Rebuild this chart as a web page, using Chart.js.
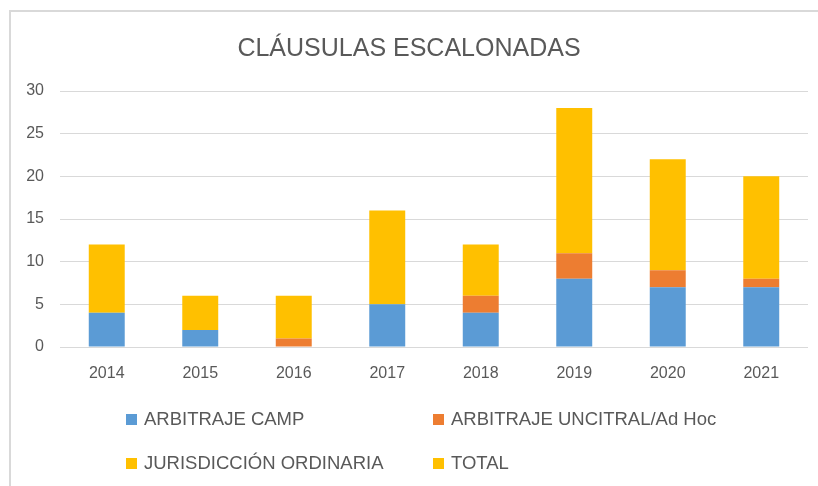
<!DOCTYPE html>
<html>
<head>
<meta charset="utf-8">
<script src="https://cdn.jsdelivr.net/npm/chart.js@4/dist/chart.umd.min.js"></script>
<style>
  html, body { margin: 0; padding: 0; background: #fff; overflow: hidden; }
  #wrap { position: relative; width: 818px; height: 486px; overflow: hidden; font-family: "Liberation Sans", Arial, sans-serif; }
  #frame { position: absolute; left: 9px; top: 10px; width: 900px; height: 560px; border: 2px solid #d9d9d9; border-right: none; border-bottom: none; box-sizing: border-box; }
  #title { position: absolute; left: 0; width: 818px; top: 31px; text-align: center; font-size: 25px; color: #595959; line-height: 32px; }
  #chartBox { position: absolute; left: 0; top: 0; width: 818px; height: 486px; }
  .leg { position: absolute; font-size: 18.5px; color: #595959; line-height: 22px; white-space: nowrap; }
  .sw { position: absolute; width: 11px; height: 11px; }
</style>
</head>
<body>
<div id="wrap">
  <div id="frame"></div>
  <div id="chartBox"><canvas id="c" width="818" height="486"></canvas></div>
  <div id="title"></div>
  <div id="legend"></div>
</div>
<script>
const chartTitle = "CLÁUSULAS ESCALONADAS";
const categories = ["2014", "2015", "2016", "2017", "2018", "2019", "2020", "2021"];
const seriesNames = ["ARBITRAJE CAMP", "ARBITRAJE UNCITRAL/Ad Hoc", "JURISDICCIÓN ORDINARIA", "TOTAL"];
const arbitrajeCamp = [4, 2, 0, 5, 4, 8, 7, 7];
const arbitrajeUncitral = [0, 0, 1, 0, 2, 3, 2, 1];
const jurisdiccionOrdinaria = [8, 4, 5, 11, 6, 17, 13, 12];
const total = [12, 6, 6, 16, 12, 28, 22, 20];
const yTicks = [0, 5, 10, 15, 20, 25, 30];
const colors = ["#5B9BD5", "#ED7D31", "#FFC000", "#FFC000"];

document.getElementById("title").textContent = chartTitle;

const seriesData = [arbitrajeCamp, arbitrajeUncitral, jurisdiccionOrdinaria, total];
const datasets = seriesData.map((d, i) => ({
  label: seriesNames[i],
  data: d,
  backgroundColor: colors[i],
  borderWidth: 0,
  stack: i === 3 ? "total" : "main",
  hidden: i === 3,
  categoryPercentage: 1,
  barPercentage: 1 / 2.6
}));

const chart = new Chart(document.getElementById("c"), {
  type: "bar",
  data: { labels: categories, datasets: datasets },
  options: {
    responsive: false,
    animation: false,
    layout: { padding: { left: 0, right: 10, top: 91, bottom: 99 } },
    plugins: { legend: { display: false }, title: { display: false }, tooltip: { enabled: false } },
    scales: {
      x: {
        stacked: true,
        grid: { display: false, drawTicks: false },
        border: { display: false },
        ticks: { color: "#595959", font: { family: "Liberation Sans", size: 16 }, padding: 17 },
        afterFit: s => { s.height = 40; }
      },
      y: {
        stacked: true,
        min: 0, max: 30,
        afterBuildTicks: s => { s.ticks = yTicks.map(v => ({ value: v })); },
        grid: { color: "#d9d9d9", lineWidth: 1, drawTicks: false },
        border: { display: false },
        ticks: { color: "#595959", font: { family: "Liberation Sans", size: 16 }, padding: 16 },
        afterFit: s => { s.width = 60; }
      }
    }
  }
});

// HTML legend built from the chart's datasets, in two columns like the original
const legend = document.getElementById("legend");
const colX = [126, 433];
const rowY = [419, 463];
chart.data.datasets.forEach((ds, i) => {
  const col = i % 2, row = Math.floor(i / 2);
  const sw = document.createElement("div");
  sw.className = "sw";
  sw.style.left = colX[col] + "px";
  sw.style.top = (rowY[row] - 5.5) + "px";
  sw.style.background = ds.backgroundColor;
  legend.appendChild(sw);
  const t = document.createElement("div");
  t.className = "leg";
  t.style.left = (colX[col] + 18) + "px";
  t.style.top = (rowY[row] - 11) + "px";
  t.textContent = ds.label;
  legend.appendChild(t);
});
</script>
</body>
</html>
